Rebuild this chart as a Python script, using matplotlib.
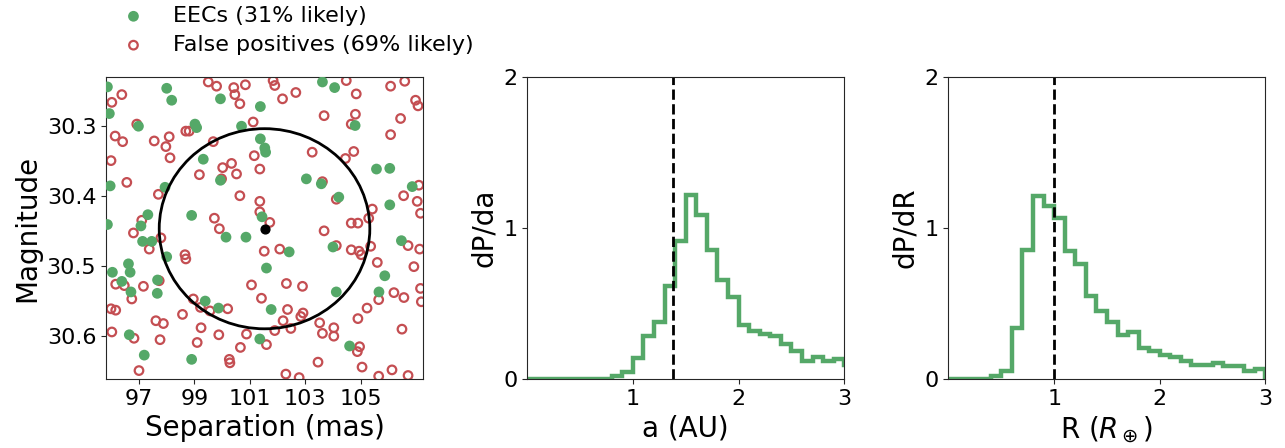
import matplotlib
matplotlib.use("Agg")
import matplotlib.pyplot as plt
from matplotlib.patches import Ellipse
import numpy as np

GREEN = "#55A868"
RED = "#C44E52"

# ---- left panel: simulated detections around the target ----
eec_sep = [95.86, 98.00, 98.18, 99.94, 101.38, 103.62, 104.06, 95.93, 96.98, 99.02,
           99.08, 100.70, 101.38, 101.54, 101.57, 104.80, 99.32, 99.94, 103.04, 103.58,
           104.21, 105.57, 106.05, 106.05, 106.86, 95.96, 97.94, 95.86, 97.32, 97.07,
           98.90, 101.44, 97.13, 97.46, 98.00, 100.14, 100.86, 102.42, 104.00, 106.47,
           101.60, 96.04, 96.62, 96.68, 96.38, 96.71, 97.67, 97.66, 99.39, 99.87,
           101.77, 104.12, 105.66, 105.87, 96.65, 97.19, 98.90, 101.36, 104.60]
eec_mag = [30.245, 30.247, 30.264, 30.262, 30.273, 30.238, 30.246, 30.283, 30.301, 30.298,
           30.303, 30.301, 30.319, 30.332, 30.338, 30.300, 30.348, 30.378, 30.376, 30.383,
           30.402, 30.362, 30.361, 30.413, 30.387, 30.386, 30.388, 30.441, 30.427, 30.443,
           30.428, 30.430, 30.465, 30.465, 30.487, 30.459, 30.459, 30.480, 30.473, 30.464,
           30.503, 30.509, 30.497, 30.509, 30.522, 30.537, 30.520, 30.539, 30.550, 30.560,
           30.562, 30.537, 30.537, 30.514, 30.598, 30.627, 30.633, 30.604, 30.614]

fp_sep = [99.50, 99.80, 100.42, 100.84, 96.38, 100.46, 96.02, 100.64, 96.92, 98.69,
          98.81, 101.12, 96.14, 96.41, 97.55, 98.09, 97.97, 99.68, 98.12, 95.99,
          101.16, 100.02, 100.34, 101.36, 99.18, 100.52, 99.98, 96.56, 97.70, 100.64,
          101.36, 101.36, 99.72, 97.10,
          101.84, 101.90, 102.18, 102.66, 104.48, 104.84, 106.08, 106.59, 106.98, 107.07,
          103.68, 104.81, 104.66, 106.44, 106.08, 103.25, 104.75, 104.45, 107.10, 106.55,
          107.04, 107.16, 105.42, 105.29, 104.12, 103.62, 101.72, 104.66, 104.90,
          96.80, 97.79, 97.37, 99.90, 98.66, 98.69, 101.52, 101.06, 101.42, 96.16,
          96.47, 97.16, 97.73, 96.74, 95.99, 96.16, 98.57, 98.96, 99.22, 99.56,
          100.20, 97.61, 97.88, 96.02, 96.82, 97.76, 99.10, 99.24, 99.88, 100.88,
          100.66, 101.60, 100.26, 100.28, 97.00,
          103.68, 102.08, 104.12, 104.66, 104.94, 105.02, 105.36, 105.60, 106.92, 107.13,
          106.71, 106.20, 106.56, 107.16, 107.19, 102.32, 102.90, 102.36, 102.92, 102.84,
          102.20, 101.90, 102.48, 103.52, 103.62, 104.03, 104.03, 105.23, 104.90, 105.65,
          106.49, 104.96, 104.88, 103.46, 105.05, 106.13, 102.30, 102.78, 105.65, 106.71]
fp_mag = [30.238, 30.244, 30.246, 30.242, 30.256, 30.256, 30.267, 30.269, 30.298, 30.308,
          30.308, 30.295, 30.315, 30.323, 30.322, 30.316, 30.330, 30.323, 30.346, 30.350,
          30.343, 30.360, 30.354, 30.362, 30.370, 30.369, 30.376, 30.381, 30.398, 30.400,
          30.408, 30.423, 30.432, 30.435,
          30.236, 30.243, 30.262, 30.253, 30.236, 30.255, 30.244, 30.237, 30.264, 30.272,
          30.286, 30.284, 30.298, 30.290, 30.313, 30.338, 30.337, 30.347, 30.385, 30.400,
          30.408, 30.425, 30.419, 30.432, 30.405, 30.380, 30.438, 30.439, 30.439,
          30.453, 30.460, 30.476, 30.447, 30.484, 30.490, 30.479, 30.527, 30.546, 30.526,
          30.528, 30.529, 30.521, 30.547, 30.561, 30.563, 30.569, 30.547, 30.559, 30.564,
          30.561, 30.578, 30.582, 30.594, 30.603, 30.605, 30.609, 30.588, 30.598, 30.597,
          30.616, 30.612, 30.633, 30.638, 30.649,
          30.450, 30.476, 30.471, 30.477, 30.479, 30.484, 30.472, 30.495, 30.501, 30.476,
          30.471, 30.538, 30.545, 30.532, 30.551, 30.525, 30.529, 30.562, 30.567, 30.572,
          30.578, 30.592, 30.589, 30.581, 30.596, 30.588, 30.600, 30.560, 30.575, 30.548,
          30.590, 30.615, 30.622, 30.637, 30.644, 30.648, 30.654, 30.659, 30.657, 30.656]

target_sep = 101.53
target_mag = 30.447
circle_width = 7.6     # mas
circle_height = 0.285  # mag

sep_ticks = [97, 99, 101, 103, 105]
mag_ticks = [30.3, 30.4, 30.5, 30.6]

# ---- histograms (bin width 0.1) ----
a_edges = np.round(np.arange(0, 3.11, 0.1), 2)
dp_da = [0, 0, 0, 0, 0, 0, 0, 0, 0.022, 0.044,
         0.137, 0.283, 0.38, 0.614, 0.916, 1.216, 1.088, 0.854, 0.653, 0.545,
         0.355, 0.317, 0.299, 0.284, 0.232, 0.184, 0.119, 0.146, 0.122, 0.133,
         0.095]
a_earth = 1.38

r_edges = np.round(np.arange(0, 3.01, 0.1), 2)
dp_dr = [0, 0, 0, 0, 0.02, 0.05, 0.34, 0.855, 1.21, 1.145,
         1.065, 0.848, 0.76, 0.55, 0.45, 0.375, 0.29, 0.31, 0.208, 0.187,
         0.158, 0.146, 0.122, 0.095, 0.092, 0.106, 0.084, 0.086, 0.051, 0.068]
r_earth = 1.0

LABEL_SIZE = 20

plt.rcParams['font.size'] = 16
plt.rcParams['axes.edgecolor'] = '0.15'
plt.rcParams['xtick.color'] = '0.15'
plt.rcParams['ytick.color'] = '0.15'
plt.rcParams['xtick.labelcolor'] = 'black'
plt.rcParams['ytick.labelcolor'] = 'black'

fig = plt.figure(figsize=(12.85, 4.48), dpi=100)
ax1 = fig.add_axes([0.0825, 0.154, 0.2467, 0.674])
ax2 = fig.add_axes([0.4103, 0.154, 0.2467, 0.674])
ax3 = fig.add_axes([0.7381, 0.154, 0.2467, 0.674])

# scatter panel
fp = ax1.scatter(fp_sep, fp_mag, s=38, facecolors='none', edgecolors=RED,
                 linewidths=1.6, zorder=2, label='False positives (69% likely)')
eec = ax1.scatter(eec_sep, eec_mag, s=60, color=GREEN, edgecolors='none',
                  zorder=3, label='EECs (31% likely)')
ax1.add_patch(Ellipse((target_sep, target_mag), circle_width, circle_height,
                      fill=False, edgecolor='black', lw=2, zorder=4))
ax1.scatter([target_sep], [target_mag], s=40, color='black', zorder=5)
ax1.set_xlim(95.81, 107.25)
ax1.set_ylim(30.661, 30.231)
ax1.set_xticks(sep_ticks)
ax1.set_yticks(mag_ticks)
ax1.set_xlabel('Separation (mas)', fontsize=LABEL_SIZE)
ax1.set_ylabel('Magnitude', fontsize=LABEL_SIZE)

fig.legend(handles=[eec, fp], loc='upper left', bbox_to_anchor=(0.071, 1.031),
           frameon=False, fontsize=16, handletextpad=0.8, labelspacing=0.4)

# histogram panels
ax2.stairs(dp_da, a_edges, color=GREEN, lw=3.2)
ax2.axvline(a_earth, color='black', ls='--', lw=2)
ax2.set_xlim(0, 3)
ax2.set_ylim(0, 2)
ax2.set_xticks([1, 2, 3])
ax2.set_yticks([0, 1, 2])
ax2.set_xlabel('a (AU)', fontsize=LABEL_SIZE)
ax2.set_ylabel('dP/da', fontsize=LABEL_SIZE)

ax3.stairs(dp_dr, r_edges, color=GREEN, lw=3.2)
ax3.axvline(r_earth, color='black', ls='--', lw=2)
ax3.set_xlim(0, 3)
ax3.set_ylim(0, 2)
ax3.set_xticks([1, 2, 3])
ax3.set_yticks([0, 1, 2])
ax3.set_xlabel(r'R ($R_\oplus$)', fontsize=LABEL_SIZE)
ax3.set_ylabel('dP/dR', fontsize=LABEL_SIZE)

fig.savefig('out.png', dpi=100)
